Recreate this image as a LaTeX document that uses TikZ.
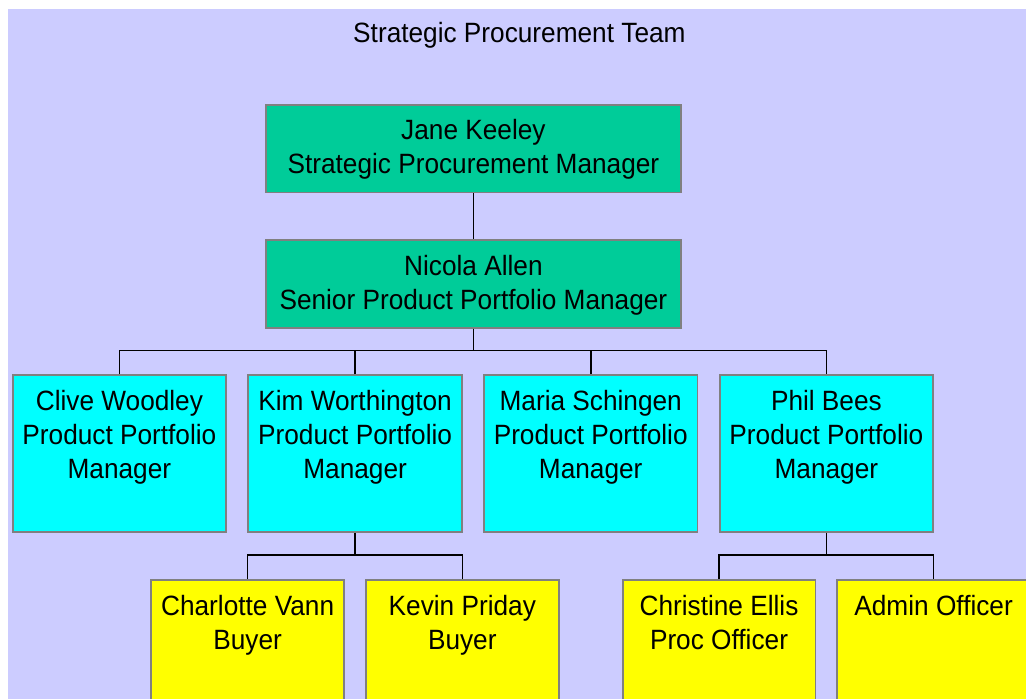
\documentclass[tikz,border=0pt]{standalone}
\usepackage{fontspec}
\newfontfamily\orgfont[FakeStretch=0.94]{Liberation Sans}
\definecolor{teamback}{HTML}{CCCCFF}
\definecolor{mgrfill}{HTML}{00CC99}
\definecolor{ppmfill}{HTML}{00FFFF}
\definecolor{stafffill}{HTML}{FFFF00}
\definecolor{boxline}{HTML}{808080}
% multi-line label whose baseline is the baseline of its first line
\newcommand{\orgtext}[1]{\parbox[t]{430pt}{\centering\orgfont\fontsize{27.9}{34.3}\selectfont #1}}
\tikzset{
  orgbox/.style={draw=boxline, line width=1.8pt, rectangle, inner sep=0pt, anchor=north west},
  mgrbox/.style={orgbox, fill=mgrfill, minimum width=415pt, minimum height=87.5pt},
  ppmbox/.style={orgbox, fill=ppmfill, minimum width=213.6pt, minimum height=156.7pt},
  staffbox/.style={orgbox, fill=stafffill, minimum width=192.8pt, minimum height=140pt},
  boxtext/.style={anchor=base, inner sep=0pt},
  link/.style={draw=black, line width=1.6pt}
}
\begin{document}
\begin{tikzpicture}[x=1pt,y=-1pt]
\clip (0,0) rectangle (1026,699);
\fill[white] (0,0) rectangle (1026,699);
\fill[teamback] (8,9) rectangle (1026,699);

\node[boxtext] (title) at (519.4,42.3) {\orgtext{Strategic Procurement Team}};

% managers
\node[mgrbox] (jane) at (265,104) {};
\node[mgrbox] (nicola) at (265,239.2) {};

% product portfolio managers
\node[ppmbox] (clive) at (11.7,374.3) {};
\node[ppmbox] (kim) at (247.4,374.3) {};
\node[ppmbox] (maria) at (483.0,374.3) {};
\node[ppmbox] (phil) at (718.7,374.3) {};

% buyers and officers
\node[staffbox] (charlotte) at (150.3,579) {};
\node[staffbox] (kevin) at (365.0,579) {};
\node[staffbox] (christine) at (621.7,579) {};
\node[staffbox] (admin) at (836.3,579) {};

% labels
\node[boxtext] (jane-t) at (jane.north |- 0,139.5) {\orgtext{Jane Keeley\\Strategic Procurement Manager}};
\node[boxtext] (nicola-t) at (nicola.north |- 0,275) {\orgtext{Nicola Allen\\Senior Product Portfolio Manager}};
\node[boxtext] (clive-t) at (clive.north |- 0,410) {\orgtext{Clive Woodley\\Product Portfolio\\Manager}};
\node[boxtext] (kim-t) at (kim.north |- 0,410) {\orgtext{Kim Worthington\\Product Portfolio\\Manager}};
\node[boxtext] (maria-t) at (maria.north |- 0,410) {\orgtext{Maria Schingen\\Product Portfolio\\Manager}};
\node[boxtext] (phil-t) at (phil.north |- 0,410) {\orgtext{Phil Bees\\Product Portfolio\\Manager}};
\node[boxtext] (charlotte-t) at (charlotte.north |- 0,615) {\orgtext{Charlotte Vann\\Buyer}};
\node[boxtext] (kevin-t) at (kevin.north |- 0,615) {\orgtext{Kevin Priday\\Buyer}};
\node[boxtext] (christine-t) at (christine.north |- 0,615) {\orgtext{Christine Ellis\\Proc Officer}};
\node[boxtext] (admin-t) at (admin.north |- 0,615) {\orgtext{Admin Officer}};

% reporting lines
\coordinate (busA) at (nicola.south |- 0,350.5);
\coordinate (busK) at (kim.south |- 0,555);
\coordinate (busP) at (phil.south |- 0,555);
\draw[link] (jane.south) -- (nicola.north);
\draw[link] (nicola.south) -- (busA);
\draw[link] (clive.north) -- (clive.north |- busA) -- (phil.north |- busA) -- (phil.north);
\draw[link] (kim.north) -- (kim.north |- busA);
\draw[link] (maria.north) -- (maria.north |- busA);
\draw[link] (kim.south) -- (busK);
\draw[link] (charlotte.north) -- (charlotte.north |- busK) -- (kevin.north |- busK) -- (kevin.north);
\draw[link] (phil.south) -- (busP);
\draw[link] (christine.north) -- (christine.north |- busP) -- (admin.north |- busP) -- (admin.north);
\end{tikzpicture}
\end{document}
